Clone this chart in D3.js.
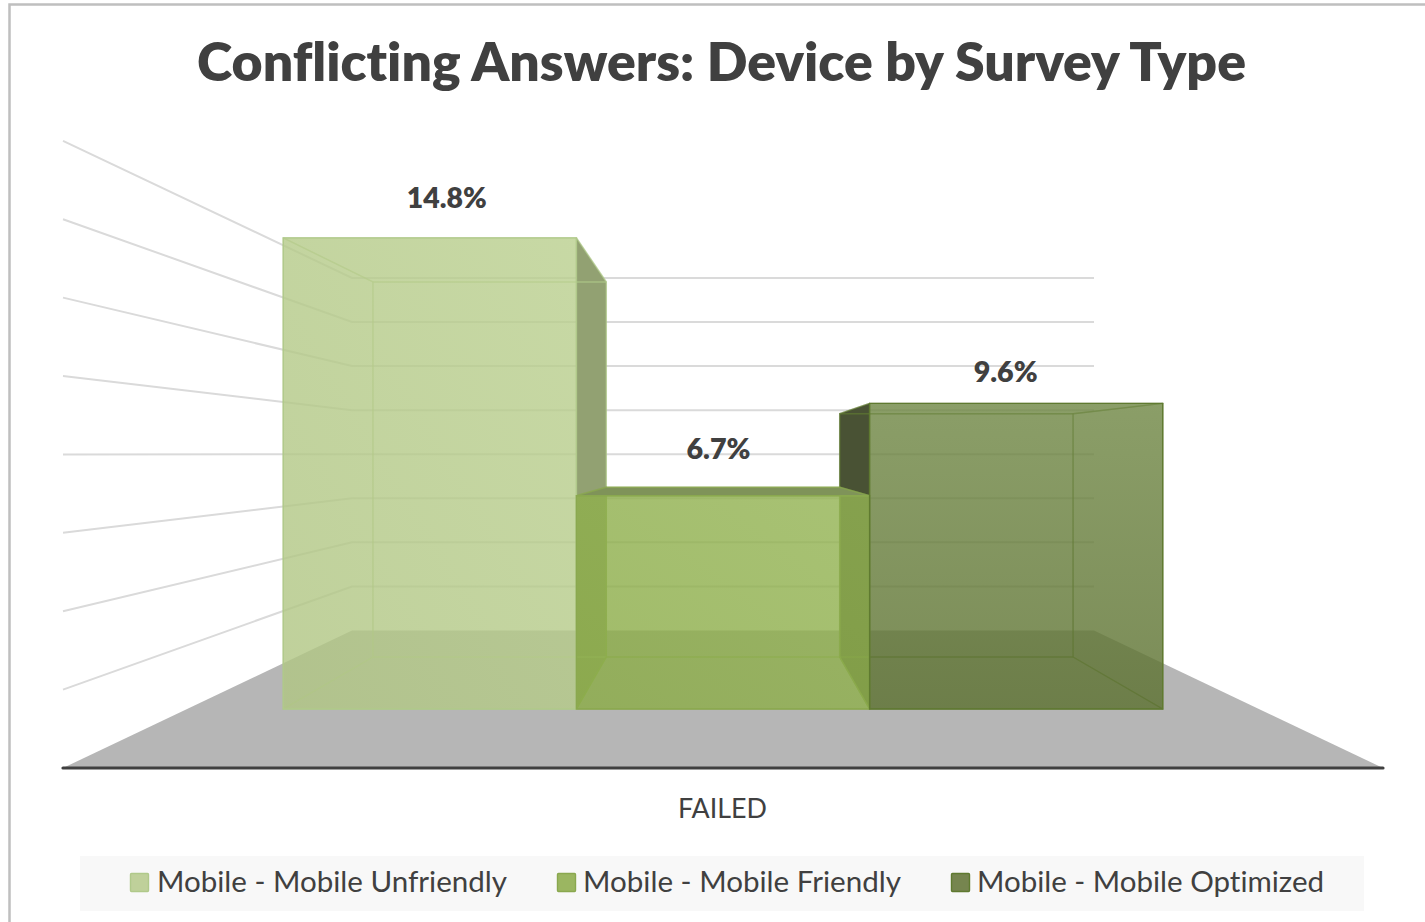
<!DOCTYPE html>
<html>
<head>
<meta charset="utf-8">
<script src="https://cdn.jsdelivr.net/npm/d3@7/dist/d3.min.js"></script>
<style>
  html, body { margin: 0; padding: 0; background: #fff; }
  svg { display: block; }
  text { font-family: Lato, "Open Sans", sans-serif; fill: #404040; font-variant-ligatures: none; }
</style>
</head>
<body>
<svg id="chart" width="1425" height="922"></svg>
<script>
// Chart content
const chartTitle = "Conflicting Answers: Device by Survey Type";
const categoryLabel = "FAILED";
const seriesNames = ["Mobile - Mobile Unfriendly", "Mobile - Mobile Friendly", "Mobile - Mobile Optimized"];
const seriesValues = [14.8, 6.7, 9.6];
const valueLabels = ["14.8%", "6.7%", "9.6%"];
const axisMax = 16;
const axisStep = 2;

// Per-series paint
const gradientFrom = ["#b0c583", "#8aab45", "#708845"];
const gradientTo = ["#bbd090", "#94b454", "#5b702f"];
const gradientDiagonal = [true, true, false];
const bodyFill = ["#b4ca88", "#8fb04e", "#6a8040"];
const edgeStroke = ["#b0c98a", "#8aa84f", "#5f7a30"];
const outerSideFill = ["#87936b", "#7f9359", "#3e4330"];
const outerTopFill = ["#c2d49e", "#7f9359", "#8b9e68"];
const swatchFill = ["#bfd09a", "#9bb661", "#76854f"];

// Value-label offsets from the top-centre of each bar's front face
const labelOffset = [[17, -30], [-4.5, -37], [-10.5, -21]];

const svg = d3.select("#chart");

// Perspective camera: the vanishing point sits at the centre of the horizon line
const vanishX = 723, horizonY = 454;
const xWorld = d3.scaleBand().domain(seriesNames).range([-541.5, 541.5]);
const yWorld = d3.scaleLinear().domain([0, axisMax]).range([314, -313.2]);
const zWorld = d3.scaleLinear().domain([0, 1]).range([0, 0.779]);
const wallX = -660;
const barDepth = [0.297, 0.702];

function project(x, value, depth) {
  const k = 1 / (1 + zWorld(depth));
  return [vanishX + x * k, horizonY + yWorld(value) * k];
}
const polyPath = pts => d3.line()(pts) + "Z";

// Diagonal or vertical sheen on the front of each bar
const defs = svg.append("defs");
seriesNames.forEach((name, i) => {
  const g = defs.append("linearGradient").attr("id", "front" + i);
  if (gradientDiagonal[i]) g.attr("x1", "0").attr("y1", "1").attr("x2", "1").attr("y2", "0");
  else g.attr("x1", "0").attr("y1", "0").attr("x2", "0").attr("y2", "1");
  g.append("stop").attr("offset", "0").attr("stop-color", gradientFrom[i]);
  g.append("stop").attr("offset", "1").attr("stop-color", gradientTo[i]);
});

// Outer frame, open on the right and at the bottom
svg.append("path")
  .attr("d", "M9.5,922V4.5H1425")
  .attr("fill", "none").attr("stroke", "#bfbfbf").attr("stroke-width", 2.5);

// Title
svg.append("text")
  .attr("x", 721.5).attr("y", 80.5)
  .attr("text-anchor", "middle")
  .attr("font-size", 53).attr("font-weight", 800)
  .attr("textLength", 1049).attr("lengthAdjust", "spacingAndGlyphs")
  .text(chartTitle);

// Floor
svg.append("path")
  .attr("d", polyPath([project(wallX, 0, 0), project(-wallX, 0, 0), project(-wallX, 0, 1), project(wallX, 0, 1)]))
  .attr("fill", "#b6b6b6");

// Gridlines along the left wall and across the back wall
const gridValues = d3.range(axisStep, axisMax + axisStep, axisStep);
const gridGroup = svg.append("g").attr("fill", "none").attr("stroke", "#dadada").attr("stroke-width", 2);
gridGroup.selectAll("path").data(gridValues).join("path")
  .attr("d", v => d3.line()([project(wallX, v, 0), project(wallX, v, 1), project(-wallX, v, 1)]));

// Floor front edge
svg.append("line")
  .attr("x1", project(wallX, 0, 0)[0]).attr("x2", project(-wallX, 0, 0)[0])
  .attr("y1", project(wallX, 0, 0)[1]).attr("y2", project(wallX, 0, 0)[1])
  .attr("stroke", "#404040").attr("stroke-width", 3.2).attr("stroke-linecap", "round");

// Bars: each is a box whose faces are layered from the farthest to the nearest
const barBoxes = seriesNames.map((name, i) => ({
  i,
  x0: xWorld(name),
  x1: xWorld(name) + xWorld.bandwidth(),
  v: seriesValues[i]
}));
const faceQuad = {
  back: b => [project(b.x0, 0, barDepth[1]), project(b.x1, 0, barDepth[1]), project(b.x1, b.v, barDepth[1]), project(b.x0, b.v, barDepth[1])],
  bottom: b => [project(b.x0, 0, barDepth[0]), project(b.x1, 0, barDepth[0]), project(b.x1, 0, barDepth[1]), project(b.x0, 0, barDepth[1])],
  left: b => [project(b.x0, 0, barDepth[0]), project(b.x0, b.v, barDepth[0]), project(b.x0, b.v, barDepth[1]), project(b.x0, 0, barDepth[1])],
  right: b => [project(b.x1, 0, barDepth[0]), project(b.x1, b.v, barDepth[0]), project(b.x1, b.v, barDepth[1]), project(b.x1, 0, barDepth[1])],
  top: b => [project(b.x0, b.v, barDepth[0]), project(b.x1, b.v, barDepth[0]), project(b.x1, b.v, barDepth[1]), project(b.x0, b.v, barDepth[1])],
  front: b => [project(b.x0, 0, barDepth[0]), project(b.x1, 0, barDepth[0]), project(b.x1, b.v, barDepth[0]), project(b.x0, b.v, barDepth[0])]
};

const seesOutside = {
  left: b => b.x0 > 0,
  right: b => b.x1 < 0,
  top: b => yWorld(b.v) > 0
};

function drawFaces(layer, keys, styleOf) {
  keys.forEach(key => {
    layer.append("g").selectAll("path").data(barBoxes.filter(b => styleOf(key, b))).join("path")
      .attr("d", b => polyPath(faceQuad[key](b)))
      .attr("fill", b => styleOf(key, b).fill)
      .attr("fill-opacity", b => styleOf(key, b).opacity)
      .attr("stroke", b => edgeStroke[b.i])
      .attr("stroke-width", 1.4)
      .attr("stroke-opacity", b => styleOf(key, b).edge)
      .attr("stroke-linejoin", "round");
  });
}

const barLayer = svg.append("g");

// Side walls seen from outside go down first, so neighbouring bars veil them
drawFaces(barLayer, ["left", "right"], (key, b) =>
  seesOutside[key](b) ? { fill: outerSideFill[b.i], opacity: 1, edge: 0.5 } : null);

// Far faces seen through the translucent front
drawFaces(barLayer, ["back", "bottom", "left", "right"], (key, b) =>
  (key === "left" || key === "right") && seesOutside[key](b)
    ? null
    : { fill: bodyFill[b.i], opacity: 0.25, edge: 0.45 });

// Top of each bar
drawFaces(barLayer, ["top"], (key, b) =>
  seesOutside.top(b)
    ? { fill: outerTopFill[b.i], opacity: 1, edge: 0.7 }
    : { fill: bodyFill[b.i], opacity: 0.25, edge: 0.45 });

// Front faces
barLayer.append("g").selectAll("path").data(barBoxes).join("path")
  .attr("d", b => polyPath(faceQuad.front(b)))
  .attr("fill", b => `url(#front${b.i})`)
  .attr("fill-opacity", 0.75)
  .attr("stroke", b => edgeStroke[b.i])
  .attr("stroke-width", 1.4);

// Value labels
svg.append("g").selectAll("text").data(barBoxes).join("text")
  .attr("x", b => project((b.x0 + b.x1) / 2, b.v, barDepth[0])[0] + labelOffset[b.i][0])
  .attr("y", b => project(b.x0, b.v, barDepth[0])[1] + labelOffset[b.i][1])
  .attr("text-anchor", "middle")
  .attr("font-size", 29).attr("font-weight", 800)
  .attr("textLength", b => valueLabels[b.i].length === 5 ? 80 : 64)
  .attr("lengthAdjust", "spacingAndGlyphs")
  .text(b => valueLabels[b.i]);

// Category label
svg.append("text")
  .attr("x", 722.5).attr("y", 818)
  .attr("text-anchor", "middle")
  .attr("font-size", 26)
  .attr("textLength", 89).attr("lengthAdjust", "spacingAndGlyphs")
  .text(categoryLabel);

// Legend
const legendSwatchX = [130, 557, 951];
const legendTextX = [157, 583, 977];
const legendTextWidth = [350, 318, 347];
svg.append("rect")
  .attr("x", 80).attr("y", 856).attr("width", 1284).attr("height", 55)
  .attr("fill", "#f8f8f8");
const legendItem = svg.append("g").selectAll("g").data(seriesNames).join("g");
legendItem.append("rect")
  .attr("x", (d, i) => legendSwatchX[i] + 0.5).attr("y", 873.5)
  .attr("width", 18).attr("height", 18)
  .attr("rx", 1)
  .attr("fill", (d, i) => swatchFill[i])
  .attr("stroke", (d, i) => edgeStroke[i]).attr("stroke-width", 1.4);
legendItem.append("text")
  .attr("x", (d, i) => legendTextX[i]).attr("y", 892)
  .attr("font-size", 29)
  .attr("textLength", (d, i) => legendTextWidth[i]).attr("lengthAdjust", "spacingAndGlyphs")
  .text(d => d);
</script>
</body>
</html>
